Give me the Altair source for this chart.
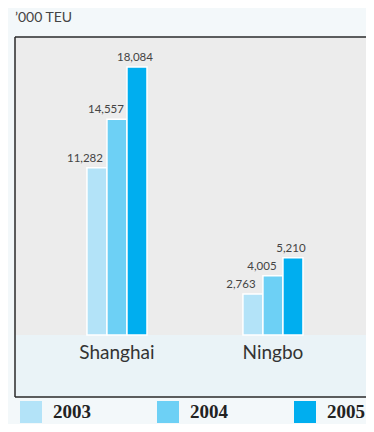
import altair as alt
import pandas as pd

cities = ["Shanghai", "Ningbo"]
years = ["2003", "2004", "2005"]
shanghai = [11282, 14557, 18084]
ningbo = [2763, 4005, 5210]
colors = ["#b3e3f8", "#6dd0f5", "#00aeef"]
label_dx = {"2003": -12, "2004": -11, "2005": -2}

rows = []
for city, vals in zip(cities, [shanghai, ningbo]):
    for y, v in zip(years, vals):
        rows.append({"city": city, "year": y, "value": v})
df = pd.DataFrame(rows)

W, H = 351, 360
xsc = alt.Scale(domain=cities, paddingInner=0.615, paddingOuter=0.4327, align=0.533)
ysc = alt.Scale(domain=[-4184, 20108], nice=False, zero=False)
csc = alt.Scale(domain=years, range=colors)

base = alt.Chart(df)

gray = alt.Chart(pd.DataFrame({"a": [0]})).mark_rect(color="#ececec").encode(
    x=alt.value(0), x2=alt.value(W), y=alt.value(1), y2=alt.value(298)
)

bars = base.mark_bar(stroke="white", strokeWidth=1.5).encode(
    x=alt.X("city:N", scale=xsc, axis=None, sort=cities),
    xOffset=alt.XOffset("year:N", scale=alt.Scale(domain=years, paddingInner=0)),
    y=alt.Y("value:Q", scale=ysc, axis=None),
    y2=alt.datum(0),
    fill=alt.Fill("year:N", scale=csc, legend=alt.Legend(
        orient="none", legendX=5, legendY=364, direction="horizontal",
        symbolType="square", symbolSize=484, symbolStrokeWidth=0, symbolOpacity=1,
        labelFont="Liberation Serif", labelFontWeight="bold", labelFontSize=19,
        labelColor="#222", labelOffset=11, columnPadding=66, title=None, padding=0,
    )),
)

labels = []
for y in years:
    labels.append(
        base.transform_filter(alt.datum.year == y).mark_text(
            font="Lato", fontSize=11.5, color="#444", baseline="alphabetic", dy=-6, dx=label_dx[y]
        ).encode(
            x=alt.X("city:N", scale=xsc, axis=None, sort=cities),
            xOffset=alt.XOffset("year:N", scale=alt.Scale(domain=years, paddingInner=0)),
            y=alt.Y("value:Q", scale=ysc, axis=None),
            text=alt.Text("value:Q", format=","),
        )
    )

cat = alt.Chart(pd.DataFrame({"city": cities})).mark_text(
    font="Lato", fontSize=19, color="#333", baseline="alphabetic"
).encode(
    x=alt.X("city:N", scale=xsc, axis=None, sort=cities),
    y=alt.value(322),
    text="city:N",
)

title = alt.Chart(pd.DataFrame({"t": ["\u2019000 TEU"]})).mark_text(
    font="Lato", fontSize=14, color="#444", align="left", baseline="alphabetic"
).encode(x=alt.value(0), y=alt.value(-15), text="t:N")

one = pd.DataFrame({"a": [0]})
rule_top = alt.Chart(one).mark_rule(color="#2a2a2a", strokeWidth=1.5).encode(
    x=alt.value(0), x2=alt.value(W), y=alt.value(0))
rule_left = alt.Chart(one).mark_rule(color="#2a2a2a", strokeWidth=1.5).encode(
    x=alt.value(0), y=alt.value(0), y2=alt.value(H))
rule_bot = alt.Chart(one).mark_rule(color="#2a2a2a", strokeWidth=1.5).encode(
    x=alt.value(0), x2=alt.value(W), y=alt.value(H))

chart = alt.layer(gray, bars, *labels, cat, title, rule_top, rule_left, rule_bot).properties(
    width=W, height=H,
    padding={"left": 7, "top": 29, "right": 0, "bottom": 27},
    autosize=alt.AutoSizeParams(type="none"),
    background="#f3f8fa",
).configure_view(stroke=None, fill="#eaf3f7")

chart.save("out.html", embed_options={"renderer": "svg", "actions": False})
